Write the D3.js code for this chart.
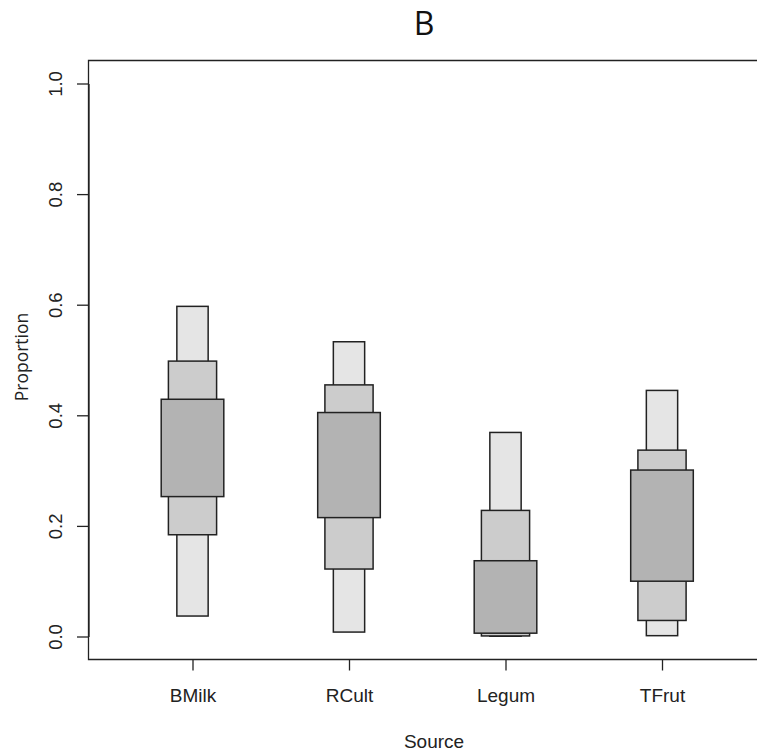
<!DOCTYPE html>
<html><head><meta charset="utf-8">
<script src="https://cdn.jsdelivr.net/npm/d3@7"></script>
<style>body{margin:0;background:#fff}svg{display:block}</style>
</head><body>
<script>
// Data
const categories = ["BMilk", "RCult", "Legum", "TFrut"];
const lo95 = [0.037, 0.008, 0.0005, 0.0015];
const hi95 = [0.597, 0.533, 0.369, 0.445];
const lo75 = [0.184, 0.122, 0.001, 0.029];
const hi75 = [0.498, 0.455, 0.228, 0.337];
const lo50 = [0.253, 0.215, 0.006, 0.100];
const hi50 = [0.429, 0.405, 0.137, 0.301];
const yTicks = [0, 0.2, 0.4, 0.6, 0.8, 1.0];
const title = "B", xTitle = "Source", yTitle = "Proportion";

const W = 757, H = 754;
const svg = d3.select("body").append("svg").attr("width", W).attr("height", H);

const y = d3.scaleLinear().domain([0, 1]).range([636.5, 83.5]);
const x = d3.scalePoint().domain(categories).range([192.5, 662]);
const step = x(categories[1]) - x(categories[0]);

const plotLeft = 88.5, plotTop = y(1.0416), plotBottom = y(-0.0416);

const levels = [
  {lo: lo95, hi: hi95, w: 0.2, fill: "#e5e5e5"},
  {lo: lo75, hi: hi75, w: 0.308, fill: "#cccccc"},
  {lo: lo50, hi: hi50, w: 0.4, fill: "#b3b3b3"}
];
levels.forEach(L => {
  svg.append("g").selectAll("rect").data(categories).join("rect")
    .attr("x", (d) => x(d) - L.w * step / 2)
    .attr("width", L.w * step)
    .attr("y", (d, i) => y(L.hi[i]))
    .attr("height", (d, i) => y(L.lo[i]) - y(L.hi[i]))
    .attr("fill", L.fill)
    .attr("stroke", "#222").attr("stroke-width", 1.5);
});

// box (clipped at right)
svg.append("path")
  .attr("d", `M${W + 20},${plotTop}H${plotLeft}V${plotBottom}H${W + 20}`)
  .attr("fill", "none").attr("stroke", "#222").attr("stroke-width", 1.3);

// y axis
const yAxis = svg.append("g").attr("transform", `translate(${plotLeft},0)`)
  .call(d3.axisLeft(y).tickValues(yTicks).tickFormat(d3.format(".1f")).tickSize(11.5).tickSizeOuter(0));
yAxis.select(".domain").attr("stroke", "#222").attr("stroke-width", 1.3);
yAxis.selectAll(".tick line").attr("stroke", "#222").attr("stroke-width", 1.3);
yAxis.selectAll(".tick text")
  .attr("font-family", "Liberation Sans, Arial, sans-serif").attr("font-size", 18.5).attr("fill", "#222")
  .attr("text-anchor", "middle").attr("dy", null).attr("x", null)
  .attr("transform", "translate(-26.5,0) rotate(-90)");

// x axis
const xAxis = svg.append("g").attr("transform", `translate(0,${plotBottom})`)
  .call(d3.axisBottom(x).tickSize(11).tickSizeOuter(0).tickPadding(17));
xAxis.select(".domain").remove();
xAxis.selectAll(".tick line").attr("stroke", "#222").attr("stroke-width", 1.3);
xAxis.selectAll(".tick text")
  .attr("font-family", "Liberation Sans, Arial, sans-serif").attr("font-size", 19).attr("fill", "#222")
  .attr("dy", null).attr("y", 42);

// titles
svg.append("text").attr("x", 424).attr("y", 35).attr("text-anchor", "middle")
  .attr("font-family", "Open Sans, sans-serif").attr("font-size", 32).attr("fill", "#111").text(title);
svg.append("text").attr("x", 434).attr("y", 748).attr("text-anchor", "middle")
  .attr("font-family", "Liberation Sans, Arial, sans-serif").attr("font-size", 19).attr("fill", "#222").text(xTitle);
svg.append("text").attr("transform", "translate(28,357) rotate(-90)").attr("text-anchor", "middle")
  .attr("font-family", "Open Sans, sans-serif").attr("font-size", 17.5).attr("fill", "#222").text(yTitle);
</script>
</body></html>
